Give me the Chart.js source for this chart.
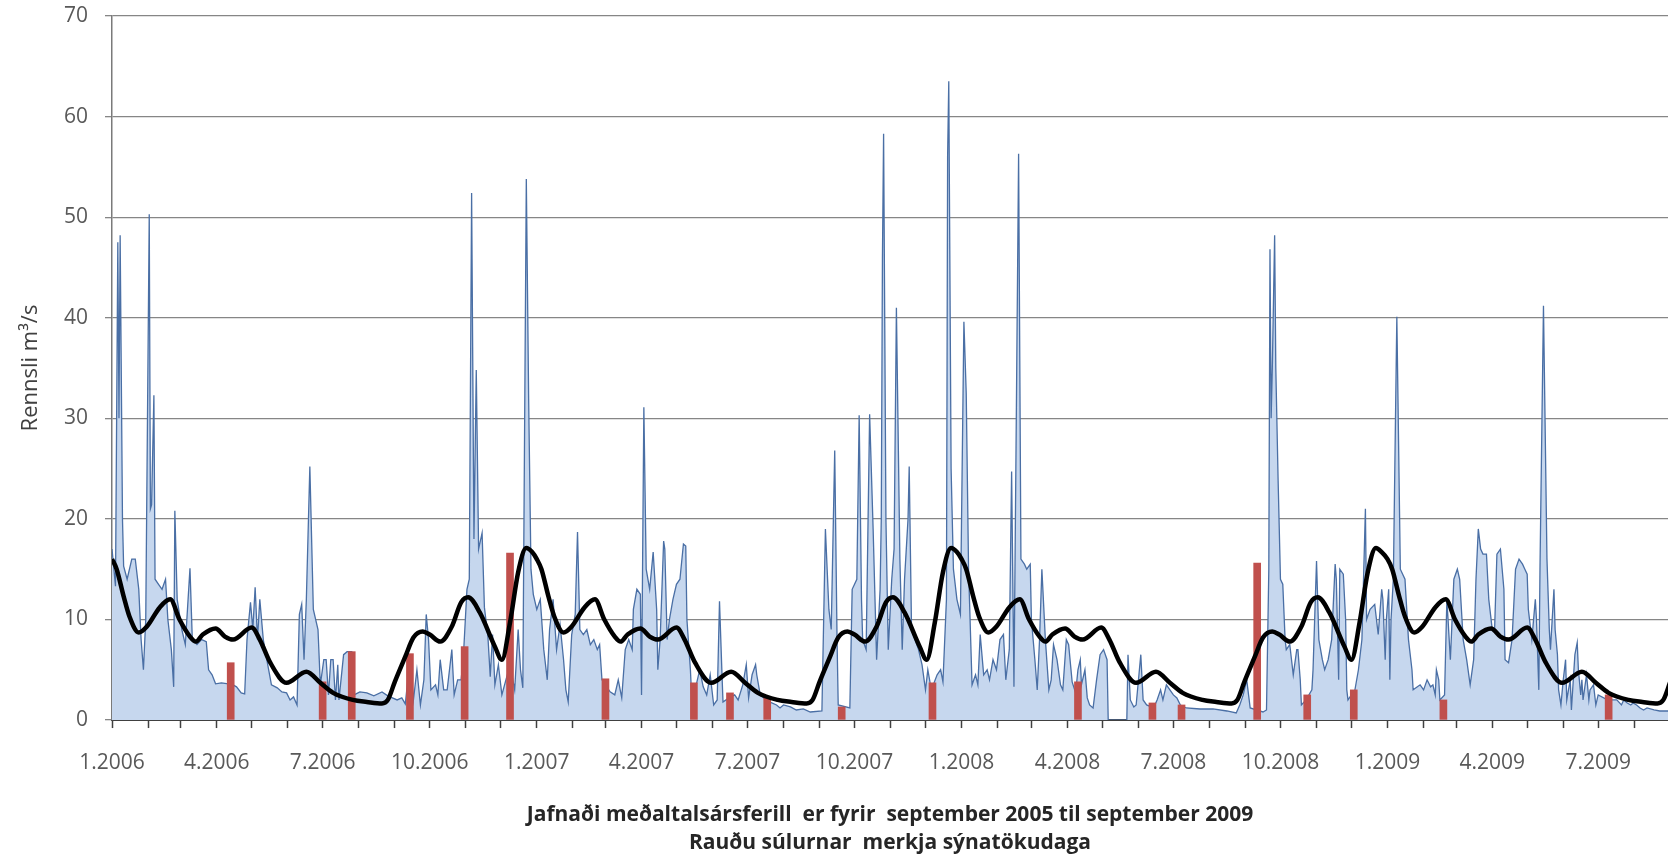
<!DOCTYPE html>
<html>
<head>
<meta charset="utf-8">
<title>Rennsli</title>
<script src="https://cdn.jsdelivr.net/npm/chart.js@4.4.1/dist/chart.umd.min.js"></script>
<style>
  html, body { margin: 0; padding: 0; background: #ffffff; }
</style>
</head>
<body>
<canvas id="flowChart" width="1668" height="858"></canvas>
<script>
// Daily flow, [day since 1.1.2006, m3/s]
const flow2006 = [
  [0,17],[3,13.3],[5,47.5],[6,30],[7,48.2],[9,20],[10,15.3],[13,14],[17,16],[20,16],
  [23,13],[25,8],[27,5],[29,10],[32,50.3],[33,21],[34,21.4],[36,32.3],[37,14],[40,13.5],
  [43,13],[46,14],[48,10],[51,7],[53,3.3],[54,20.8],[56,12],[60,9],[63,7.5],[67,15.1],
  [69,8],[73,7.5],[77,8],[81,7.8],[83,5],[86,4.5],[89,3.6],[94,3.7],[100,3.6],[104,3.5],
  [107,3.3],[111,2.7],[114,2.6],[116,8],[119,11.7],[121,9],[123,13.2],[125,8],[127,12],[130,8],
  [133,6],[137,3.5],[142,3.2],[146,2.8],[150,2.7],[153,2],[156,2.3],[159,1.5],[161,10.5],[163,11.5],
  [165,6],[167,12],[170,25.2],[173,11],[177,9],[179,3.5],[182,6],[184,6],[186,2.5],[188,6],
  [190,6],[192,2],[194,5.5],[195,2],[199,6.5],[202,6.8],[206,6.8],[208,2.5],[213,2.8],[219,2.7],
  [225,2.4],[232,2.8],[237,2.4],[245,2],[249,2.2],[252,1.6],[256,6],[259,2],[262,5],[265,1.5],
  [268,4],[270,10.5],[272,8],[274,3],[278,3.5],[280,2.5],[282,6],[285,3],[288,3],[292,7],
  [294,2.5],[297,4],[300,4],[302,6.5],[305,13],[307,14],[309,52.4],[311,18],[313,34.8],[315,17],
  [318,18.6],[320,11.2],[323,8.3],[325,4.3],[327,8.5],[329,3.5],[332,5.5],[335,2.5],[342,5.5],[346,3],
  [349,9],[351,5],[353,3.2],[356,53.8],[358,32],[360,15],[362,12.5]
];
const flow2007 = [
  [365,11],[368,12],[371,7],[374,4],[376,9],[379,12],[382,7],[385,9.5],[388,6],[390,3],
  [392,1.8],[395,8.5],[398,10.5],[400,18.7],[402,9],[405,8.5],[408,9],[411,7.5],[414,8],[417,7],
  [419,7.5],[421,4],[428,2.8],[432,2.5],[435,4],[438,2.2],[441,7],[444,8],[447,7],[448,11],
  [451,13],[454,12.5],[455,2.5],[457,31.1],[459,15],[462,13],[465,16.7],[468,11],[469,5],[471,8],
  [474,17.8],[475,17],[477,8],[479,10],[482,12],[485,13.5],[488,14],[491,17.5],[493,17.3],[494,10],
  [497,5],[498,2.5],[502,3.5],[505,5],[508,3.3],[511,2.5],[514,4.5],[517,1.5],[520,2],[522,11.8],
  [524,5],[525,1.8],[530,2.2],[535,2.5],[538,2],[542,3.5],[545,5.5],[547,2.2],[550,4.5],[553,5.5],
  [554,4.5],[557,2.5],[560,2.2],[565,1.8],[571,1.5],[574,1.2],[577,1.5],[583,1.3],[588,1],[594,1.1],
  [600,0.8],[610,0.9],[613,19],[616,11],[618,9],[621,26.8],[623,8],[624,1.5],[634,1.2],[636,13],
  [640,14],[642,30.3],[644,12],[645,8],[648,7],[651,30.4],[654,19],[657,6],[660,13],[661,20],
  [662,45.9],[663,58.3],[665,20],[667,7],[670,14],[672,17],[674,41],[677,16],[679,7],[681,14],
  [684,20],[685,25.2],[687,9],[690,8],[693,7],[696,5.5],[699,3],[701,5],[704,3],[709,4.5],
  [712,5],[714,3.8],[717,12],[718,56],[719,63.5],[721,25],[723,15],[726,12],[729,10.5]
];
const flow2008 = [
  [732,39.6],[734,32.5],[736,15],[739,3.5],[742,4.5],[744,3.5],[746,8.5],[749,4.5],[752,5],[754,4],
  [757,6],[760,5],[763,8],[766,8.5],[768,4],[771,7],[773,24.7],[775,3.3],[779,56.3],[781,16],
  [784,15.5],[786,15],[789,15.5],[790,10],[793,6],[795,3],[797,8],[799,15],[802,8],[805,3],
  [807,4],[809,7.5],[812,6],[815,3.5],[817,3],[820,8],[822,7.5],[825,3.8],[828,2.7],[830,5],
  [832,6],[833,3.5],[836,5],[838,2.2],[840,1.5],[843,1.2],[846,4],[849,6.5],[852,7],[855,6],
  [856,0],[872,0],[873,6.5],[875,2],[878,1.3],[880,1.5],[884,6.5],[886,2],[889,1.5],[895,1.2],
  [898,2],[901,3],[903,2],[906,3.5],[909,3],[912,2.5],[915,2.2],[918,1.5],[923,1.2],[935,1.1],
  [946,1.1],[958,0.9],[966,0.7],[969,1.5],[972,2.5],[975,4],[978,1.2],[989,0.8],[992,1],[994,15],
  [995,46.8],[996,30],[997,35],[999,48.2],[1000,35],[1002,23.8],[1004,14],[1006,13.5],[1008,8],[1009,7],
  [1012,7.5],[1014,5.5],[1015,4.5],[1018,7],[1019,7],[1021,4],[1022,1.5],[1026,2],[1031,3],[1032,5],
  [1035,15.8],[1037,8],[1040,6],[1042,5],[1045,6],[1048,8],[1051,15.5],[1052,14],[1054,4],[1055,15],
  [1058,14.5],[1060,10],[1061,3],[1062,2],[1068,3],[1071,5],[1074,8],[1077,21],[1078,10],[1081,11],
  [1085,11.5],[1088,8.5],[1091,13],[1092,12],[1094,6],[1095,10]
];
const flow2009 = [
  [1097,13],[1098,4],[1099,10],[1101,14],[1104,40.1],[1107,15],[1111,14],[1114,8],[1117,5],[1118,3],
  [1124,3.5],[1127,3],[1130,4],[1133,3.3],[1135,3.5],[1137,2.5],[1138,5],[1140,4],[1141,2],[1145,2.5],
  [1147,12],[1150,6],[1153,14],[1156,15],[1158,14],[1161,8],[1164,6],[1167,3.5],[1170,6],[1172,14],
  [1174,19],[1176,17],[1178,16.5],[1181,16.5],[1183,12],[1186,9],[1188,9],[1190,16.5],[1193,17],[1196,13],
  [1197,6],[1200,5.7],[1203,8],[1206,15],[1209,16],[1212,15.5],[1214,15],[1216,14.5],[1217,11],[1220,8],
  [1223,12],[1224,10],[1226,3],[1227,15],[1230,41.2],[1233,16],[1235,9],[1236,7],[1239,13],[1240,9],
  [1242,6.5],[1243,3],[1245,1.5],[1247,4],[1249,6],[1250,2],[1253,4],[1254,1],[1257,6.5],[1259,7.7],
  [1260,5],[1262,2.5],[1263,4],[1264,2],[1267,4.5],[1269,2],[1270,3],[1273,3.5],[1275,1.5],[1277,2.5],
  [1285,2],[1293,2],[1297,1.5],[1299,2],[1302,1.7],[1305,1.5],[1307,1.7],[1310,1.5],[1313,1.2],[1316,1],
  [1319,1.2],[1325,1],[1330,0.9],[1337,0.9]
];

// Smoothed mean annual cycle (Sept 2005 - Sept 2009), [day of year, m3/s]
const meanCycle = [
  [0,16.0],[4,15.0],[10,12.3],[15,10.3],[23,8.7],[30,9.3],[41,11.2],[50,12.0],[58,10.0],[67,8.3],
  [72,7.8],[78,8.5],[89,9.1],[97,8.3],[104,8.0],[120,9.2],[127,8.0],[136,5.7],[150,3.7],[167,4.8],
  [179,3.7],[190,2.7],[207,2.0],[219,1.8],[232,1.65],[237,2.0],[243,3.8],[252,6.3],[259,8.2],[267,8.8],
  [273,8.5],[282,7.8],[292,9.3],[300,11.7],[306,12.2],[316,10.7],[329,7.3],[335,6.0],[342,9.7],[349,14.7],
  [356,17.1],[361,16.7]
];
const yearStarts = [0, 365, 730, 1096];

// Sampling days (red columns)
const sampleDays = [102, 181, 206, 256, 303, 342, 424, 500, 531, 563, 627, 705, 830, 894, 919, 984, 1027, 1067, 1144, 1286];
const sampleValues = [5.7, 3.8, 6.8, 6.6, 7.3, 16.6, 4.1, 3.7, 2.7, 2.2, 1.3, 3.7, 3.8, 1.7, 1.5, 15.6, 2.5, 3.0, 2.0, 2.5];

const quarterLabels = ['1.2006', '4.2006', '7.2006', '10.2006', '1.2007', '4.2007', '7.2007', '10.2007',
  '1.2008', '4.2008', '7.2008', '10.2008', '1.2009', '4.2009', '7.2009'];

const xMax = 1337;
const tickFont = { family: "'Open Sans', sans-serif", size: 21 };

// month ticks along the time axis
const monthTicks = [];
for (let y = 2006; y <= 2009; y++) {
  for (let m = 0; m < 12; m++) {
    const day = (Date.UTC(y, m, 1) - Date.UTC(2006, 0, 1)) / 864e5;
    if (day > xMax) continue;
    const name = (m + 1) + '.' + y;
    monthTicks.push({ value: day, label: quarterLabels.includes(name) ? name : '' });
  }
}

const flowPoints = [].concat(flow2006, flow2007, flow2008, flow2009).map(p => ({ x: p[0], y: p[1] }));

const meanPoints = [];
yearStarts.forEach(start => {
  meanCycle.forEach(p => meanPoints.push({ x: start + p[0], y: p[1] }));
});

const samplePoints = sampleDays.map((d, i) => ({ x: d, y: sampleValues[i] }));

new Chart(document.getElementById('flowChart'), {
  type: 'line',
  data: {
    datasets: [
      {
        type: 'line',
        data: meanPoints,
        borderColor: '#000000',
        borderWidth: 4.5,
        pointRadius: 0,
        cubicInterpolationMode: 'monotone',
        fill: false,
        order: 0
      },
      {
        type: 'bar',
        data: samplePoints,
        backgroundColor: '#c0504d',
        barThickness: 7,
        order: 1
      },
      {
        type: 'line',
        data: flowPoints,
        borderColor: '#4a6fa5',
        borderWidth: 1.3,
        backgroundColor: '#c6d7ee',
        fill: 'origin',
        pointRadius: 0,
        tension: 0,
        order: 2
      }
    ]
  },
  options: {
    responsive: false,
    animation: false,
    events: [],
    layout: { padding: { top: 16, left: 0, right: 0, bottom: 0 } },
    plugins: {
      legend: { display: false },
      tooltip: { enabled: false },
      title: {
        display: true,
        position: 'bottom',
        fullSize: false,
        align: 'center',
        text: ['Jafnaði meðaltalsársferill  er fyrir  september 2005 til september 2009',
               'Rauðu súlurnar  merkja sýnatökudaga'],
        color: '#262626',
        font: { family: "'Open Sans', sans-serif", size: 21, weight: 'bold', lineHeight: 1.38 },
        padding: { top: 20, bottom: 0 }
      }
    },
    scales: {
      x: {
        type: 'linear',
        min: 0,
        max: xMax,
        offset: false,
        grid: { offset: false, drawOnChartArea: false, drawTicks: true, tickLength: 8, tickColor: '#404040', tickWidth: 1.5 },
        border: { color: '#404040', width: 2 },
        afterBuildTicks: scale => { scale.ticks = monthTicks.map(t => ({ value: t.value })); },
        afterFit: scale => { scale.height = 60; },
        ticks: {
          autoSkip: false,
          maxRotation: 0,
          padding: 22,
          color: '#595959',
          font: tickFont,
          callback: (value, index) => monthTicks[index] ? monthTicks[index].label : ''
        }
      },
      y: {
        min: 0,
        max: 70,
        ticks: { stepSize: 10, padding: 17, color: '#595959', font: tickFont },
        grid: { color: '#868686', lineWidth: 1.3, tickLength: 7, tickColor: '#868686' },
        border: { color: '#7a7a7a', width: 1.5 },
        title: {
          display: true,
          text: 'Rennsli m³/s',
          color: '#404040',
          font: { family: "'Open Sans', sans-serif", size: 22 },
          padding: { top: 18, bottom: 4 }
        },
        afterFit: scale => {
          scale.width = 112;
          scale.paddingTop = 0;
          scale.paddingBottom = 0;
        }
      }
    }
  }
});
</script>
</body>
</html>
